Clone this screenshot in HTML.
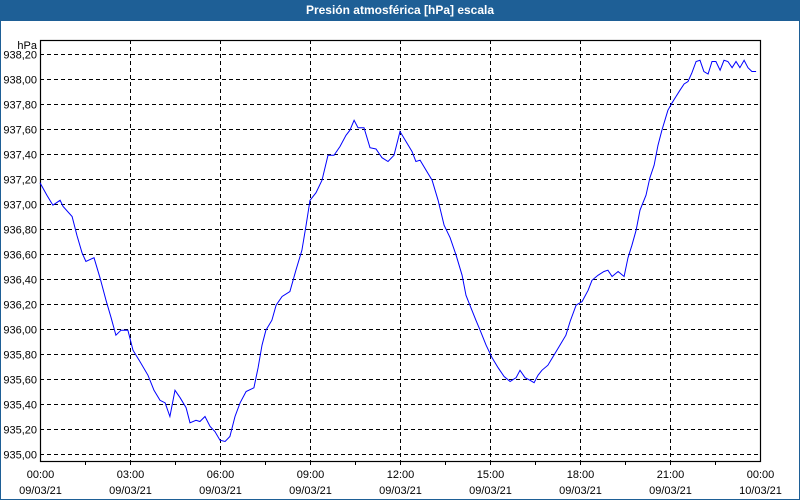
<!DOCTYPE html>
<html><head><meta charset="utf-8">
<style>
html,body{margin:0;padding:0;background:#fff;}
body{width:800px;height:500px;overflow:hidden;position:relative;font-family:"Liberation Sans",Tahoma,sans-serif;}
#frame{position:absolute;left:0;top:0;width:798px;height:498px;border:1px solid #1e5f96;}
#title{position:absolute;left:0;top:0;width:800px;height:21px;background:#1e5f96;color:#fff;font-weight:bold;font-size:12px;text-align:center;line-height:21px;}
svg{position:absolute;left:0;top:0;}
svg text{font-family:"Liberation Sans",Tahoma,sans-serif;font-size:11px;fill:#000;}
</style></head>
<body>
<div id="frame"></div>
<div id="title">Presión atmosférica [hPa] escala</div>
<svg id="chart" width="800" height="500"></svg>
<script>
const times=[0,0.23,0.43,0.67,0.77,1.07,1.23,1.4,1.53,1.8,2,2.2,2.37,2.53,2.7,2.93,3.1,3.33,3.6,3.8,4,4.17,4.33,4.5,4.67,4.87,5,5.2,5.33,5.5,5.67,5.83,6,6.17,6.33,6.5,6.67,6.87,7.13,7.27,7.4,7.53,7.73,7.87,8.07,8.33,8.53,8.73,8.87,9,9.2,9.4,9.6,9.8,10,10.2,10.33,10.47,10.6,10.8,11,11.2,11.4,11.6,11.8,12,12.2,12.4,12.53,12.67,12.87,13.07,13.27,13.47,13.67,13.87,14.07,14.2,14.33,14.53,14.67,14.87,15.07,15.27,15.47,15.67,15.87,16,16.17,16.33,16.47,16.6,16.73,16.93,17.13,17.33,17.53,17.67,17.87,18.07,18.27,18.4,18.6,18.8,18.93,19.07,19.27,19.47,19.6,19.73,19.87,20,20.2,20.33,20.47,20.6,20.73,20.93,21.07,21.2,21.33,21.47,21.6,21.73,21.87,22,22.13,22.27,22.4,22.53,22.67,22.8,22.93,23.07,23.2,23.33,23.47,23.6,23.73,23.87];
const pressure=[937.17,937.07,936.99,937.03,936.98,936.90,936.75,936.61,936.54,936.57,936.41,936.23,936.09,935.95,935.99,935.99,935.83,935.74,935.63,935.51,935.43,935.41,935.30,935.51,935.45,935.37,935.25,935.27,935.26,935.30,935.22,935.18,935.11,935.10,935.14,935.30,935.41,935.50,935.53,935.69,935.87,935.99,936.07,936.19,936.26,936.30,936.47,936.63,936.83,937.03,937.09,937.19,937.39,937.39,937.46,937.55,937.59,937.67,937.61,937.61,937.45,937.44,937.37,937.34,937.39,937.58,937.50,937.42,937.34,937.35,937.27,937.19,937.03,936.83,936.73,936.59,936.43,936.27,936.19,936.07,935.99,935.87,935.77,935.69,935.62,935.58,935.61,935.67,935.61,935.59,935.57,935.63,935.67,935.71,935.79,935.87,935.95,936.06,936.19,936.22,936.31,936.39,936.43,936.46,936.47,936.42,936.46,936.42,936.57,936.67,936.79,936.95,937.07,937.21,937.31,937.47,937.59,937.75,937.81,937.86,937.91,937.96,937.98,938.05,938.14,938.15,938.06,938.04,938.14,938.14,938.07,938.15,938.14,938.09,938.14,938.09,938.15,938.09,938.06,938.06];
const yTicks=["935,00","935,20","935,40","935,60","935,80","936,00","936,20","936,40","936,60","936,80","937,00","937,20","937,40","937,60","937,80","938,00","938,20"];
const yTickValues=[935,935.2,935.4,935.6,935.8,936,936.2,936.4,936.6,936.8,937,937.2,937.4,937.6,937.8,938,938.2];
const xTickHours=[0,3,6,9,12,15,18,21,24];
const xTickTimes=["00:00","03:00","06:00","09:00","12:00","15:00","18:00","21:00","00:00"];
const xTickDates=["09/03/21","09/03/21","09/03/21","09/03/21","09/03/21","09/03/21","09/03/21","09/03/21","10/03/21"];

const L=40,R=760,T=40,B=461;
const X=h=>L+h*(R-L)/24;
const Y=v=>454-(v-935)*125;
const svg=document.getElementById('chart');
const NS='http://www.w3.org/2000/svg';
function mk(tag,attrs){const e=document.createElementNS(NS,tag);for(const k in attrs)e.setAttribute(k,attrs[k]);svg.appendChild(e);return e;}

yTickValues.forEach((v,i)=>{
  const y=Math.round(Y(v))+0.5;
  const g=mk('line',{x1:L,x2:R,y1:y,y2:y,stroke:'#000','stroke-width':1,'stroke-dasharray':'4,3'});
  
  
  const t=mk('text',{x:L-3,y:y+4,'text-anchor':'end'});
  t.textContent=yTicks[i];
  
  
});
const unit=mk('text',{x:L-3,y:T+9,'text-anchor':'end'});
unit.textContent='hPa';



for(let h=1.5;h<24;h+=1.5){
  const x=Math.round(X(h))+0.5;
  const tk=mk('line',{x1:x,x2:x,y1:B,y2:B+4,stroke:'#000'});
  
  
}
xTickHours.forEach((h,i)=>{
  const x=Math.round(X(h))+0.5;
  if(h>0&&h<24){
    const g=mk('line',{x1:x,x2:x,y1:T,y2:B,stroke:'#000','stroke-dasharray':'4,3'});
    
    
  }
  const t1=mk('text',{x:x,y:478,'text-anchor':'middle'});
  t1.textContent=xTickTimes[i];
  
  
  const t2=mk('text',{x:x,y:494,'text-anchor':'middle'});
  t2.textContent=xTickDates[i];
  
  
});

const border=mk('rect',{x:L+0.5,y:T+0.5,width:R-L,height:B-T,fill:'none',stroke:'#000','stroke-width':1.2});



const pts=times.map((t,i)=>X(t).toFixed(1)+','+Y(pressure[i]).toFixed(1)).join(' ');
const line=mk('polyline',{points:pts,fill:'none',stroke:'#0000ff','stroke-width':1});


</script>
</body></html>
